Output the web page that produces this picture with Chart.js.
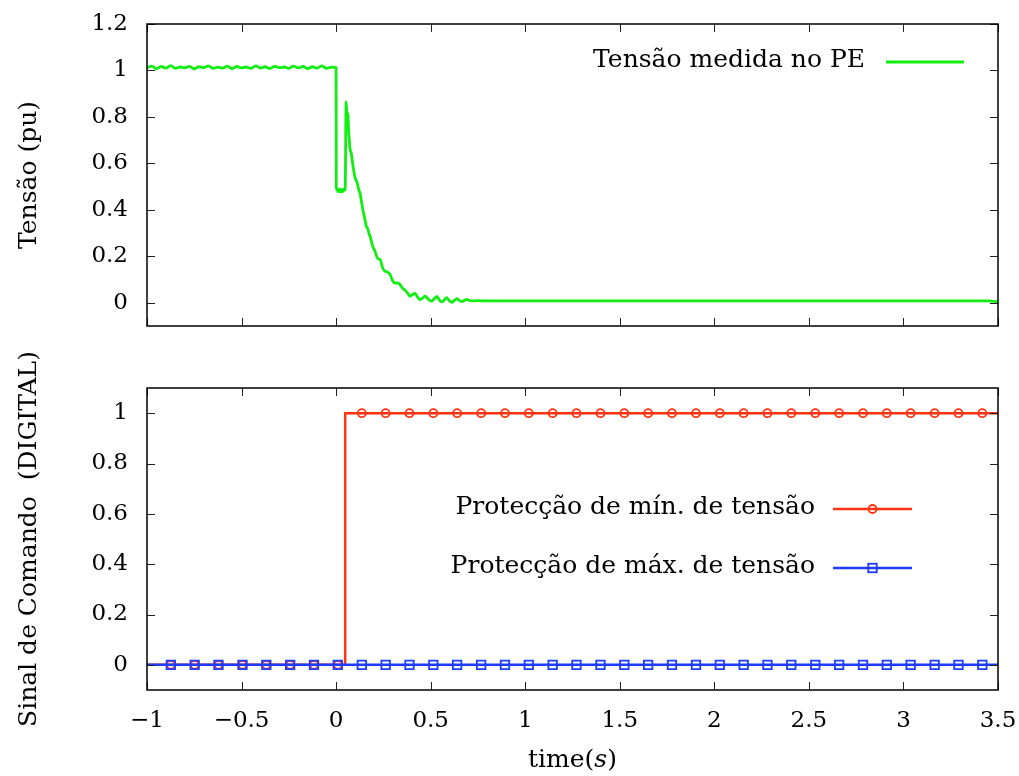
<!DOCTYPE html>
<html>
<head>
<meta charset="utf-8">
<script src="https://cdn.jsdelivr.net/npm/chart.js@4.4.1/dist/chart.umd.min.js"></script>
<style>
  html, body { margin: 0; padding: 0; background: #fff; }
  #wrap { position: relative; width: 1019px; height: 776px; }
  canvas { position: absolute; left: 0; }
  #voltChart { top: 0; }
  #cmdChart { top: 345px; }
</style>
</head>
<body>
<div id="wrap">
  <canvas id="voltChart" width="1019" height="345"></canvas>
  <canvas id="cmdChart" width="1019" height="431"></canvas>
</div>
<script>
// eixos
const xTicks = [-1, -0.5, 0, 0.5, 1, 1.5, 2, 2.5, 3, 3.5];
const voltTicks = [0, 0.2, 0.4, 0.6, 0.8, 1, 1.2];
const cmdTicks = [0, 0.2, 0.4, 0.6, 0.8, 1];

// tensão no PE antes do defeito
const preFaultTime = [
  -1, -0.975, -0.95, -0.925, -0.9, -0.875, -0.85, -0.825, -0.8, -0.775,
  -0.75, -0.725, -0.7, -0.675, -0.65, -0.625, -0.6, -0.575, -0.55, -0.525,
  -0.5, -0.475, -0.45, -0.425, -0.4, -0.375, -0.35, -0.325, -0.3, -0.275,
  -0.25, -0.225, -0.2, -0.175, -0.15, -0.125, -0.1, -0.075, -0.05, -0.025,
  0
];
const preFaultValue = [
  1.012, 1.019, 1.008, 1.017, 1.010, 1.021, 1.009, 1.015, 1.011, 1.018,
  1.007, 1.016, 1.012, 1.020, 1.009, 1.014, 1.010, 1.019, 1.008, 1.017,
  1.011, 1.015, 1.009, 1.020, 1.010, 1.016, 1.008, 1.018, 1.012, 1.015,
  1.009, 1.019, 1.011, 1.017, 1.008, 1.016, 1.010, 1.020, 1.009, 1.014,
  1.012
];

// tensão no PE depois do defeito
const faultTime = [
  0.001, 0.006, 0.012, 0.018, 0.024, 0.030, 0.036, 0.042, 0.048, 0.053,
  0.058, 0.062, 0.066, 0.070, 0.074, 0.080, 0.090, 0.100, 0.110, 0.120,
  0.127, 0.135, 0.145, 0.153, 0.160, 0.167, 0.175, 0.180, 0.193, 0.206,
  0.220, 0.233, 0.246, 0.259, 0.272, 0.286, 0.299, 0.312, 0.325, 0.338,
  0.352, 0.365, 0.378, 0.391, 0.405, 0.418, 0.431, 0.444, 0.457, 0.471,
  0.488, 0.506, 0.520, 0.533, 0.546, 0.559, 0.572, 0.585, 0.598, 0.612,
  0.625, 0.638, 0.651, 0.665, 0.678, 0.691, 0.705, 0.718, 0.75, 0.8,
  1.0, 1.5, 2.0, 2.5, 3.0, 3.45, 3.5
];
const faultValue = [
  0.500, 0.485, 0.478, 0.490, 0.476, 0.488, 0.479, 0.490, 0.485, 0.865,
  0.800, 0.815, 0.742, 0.700, 0.660, 0.644, 0.585, 0.540, 0.520, 0.486,
  0.470, 0.430, 0.386, 0.357, 0.328, 0.320, 0.295, 0.285, 0.245, 0.221,
  0.190, 0.186, 0.150, 0.136, 0.132, 0.121, 0.095, 0.085, 0.085, 0.079,
  0.062, 0.054, 0.042, 0.028, 0.036, 0.040, 0.024, 0.014, 0.020, 0.028,
  0.015, 0.007, 0.018, 0.027, 0.012, 0.004, 0.012, 0.022, 0.010, 0.002,
  0.010, 0.018, 0.010, 0.005, 0.010, 0.014, 0.010, 0.008, 0.009, 0.008,
  0.008, 0.008, 0.008, 0.008, 0.008, 0.008, 0.004
];

// sinais de comando (degraus)
const stepTime = [-1, 0.048, 0.048, 3.5];
const minStep = [0, 0, 1, 1];
const maxStep = [0, 0, 0, 0];

// amostras marcadas
const sampleTime = [
  -0.874, -0.748, -0.622, -0.495, -0.369, -0.243, -0.117, 0.009, 0.136, 0.262,
  0.388, 0.514, 0.640, 0.767, 0.893, 1.019, 1.145, 1.271, 1.398, 1.524,
  1.650, 1.776, 1.903, 2.029, 2.155, 2.281, 2.407, 2.534, 2.660, 2.786,
  2.912, 3.038, 3.165, 3.291, 3.417
];
const minSample = [
  0, 0, 0, 0, 0, 0, 0, 0, 1, 1,
  1, 1, 1, 1, 1, 1, 1, 1, 1, 1,
  1, 1, 1, 1, 1, 1, 1, 1, 1, 1,
  1, 1, 1, 1, 1
];
const maxSample = [
  0, 0, 0, 0, 0, 0, 0, 0, 0, 0,
  0, 0, 0, 0, 0, 0, 0, 0, 0, 0,
  0, 0, 0, 0, 0, 0, 0, 0, 0, 0,
  0, 0, 0, 0, 0
];

const GREEN = '#11ee11';
const RED = '#ff3311';
const BLUE = '#1e3cff';
const FONT = "'DejaVu Serif', serif";

Chart.defaults.font.family = FONT;
Chart.defaults.font.size = 23;
Chart.defaults.color = '#000';

const zip = (xs, ys) => xs.map((x, i) => ({ x: x, y: ys[i] }));
const fmt = v => String(v).replace('-', '\u2212');

// moldura com marcas de escala para dentro, nos quatro lados
const frameTicks = {
  id: 'frameTicks',
  afterDraw(chart, args, opts) {
    const { ctx, chartArea: a, scales: { x, y } } = chart;
    const len = opts.length;
    ctx.save();
    ctx.strokeStyle = '#222';
    ctx.lineWidth = 1;
    ctx.beginPath();
    xTicks.forEach(v => {
      const px = Math.round(x.getPixelForValue(v)) + 0.5;
      ctx.moveTo(px, a.bottom); ctx.lineTo(px, a.bottom - len);
      ctx.moveTo(px, a.top); ctx.lineTo(px, a.top + len);
    });
    opts.yTicks.forEach(v => {
      const py = Math.round(y.getPixelForValue(v)) + 0.5;
      ctx.moveTo(a.left, py); ctx.lineTo(a.left + len, py);
      ctx.moveTo(a.right, py); ctx.lineTo(a.right - len, py);
    });
    ctx.stroke();
    ctx.strokeStyle = '#000';
    ctx.lineWidth = 1.5;
    ctx.strokeRect(a.left, a.top, a.right - a.left, a.bottom - a.top);
    ctx.restore();
  }
};

// legenda ao estilo gnuplot: texto à esquerda, amostra da linha à direita
const sideLegend = {
  id: 'sideLegend',
  afterDraw(chart, args, opts) {
    const { ctx } = chart;
    ctx.save();
    ctx.font = opts.fontSize + 'px ' + FONT;
    ctx.textAlign = 'right';
    ctx.textBaseline = 'middle';
    chart.data.datasets.filter(d => d.legendMarker).forEach((ds, i) => {
      const y = opts.top + i * opts.rowGap;
      ctx.fillStyle = '#000';
      ctx.fillText(ds.label, opts.textRight, y - 2);
      ctx.strokeStyle = ds.borderColor;
      ctx.lineWidth = ds.borderWidth;
      ctx.beginPath();
      ctx.moveTo(opts.lineLeft, y);
      ctx.lineTo(opts.lineRight, y);
      ctx.stroke();
      const mx = (opts.lineLeft + opts.lineRight) / 2;
      ctx.lineWidth = 1.8;
      if (ds.legendMarker === 'circle') {
        ctx.beginPath();
        ctx.arc(mx, y, 4, 0, Math.PI * 2);
        ctx.stroke();
      } else if (ds.legendMarker === 'rect') {
        const s = 4.25;
        ctx.strokeRect(mx - s, y - s, 2 * s, 2 * s);
      }
    });
    ctx.restore();
  }
};

// título do eixo x com a unidade em itálico
const timeTitle = {
  id: 'timeTitle',
  afterDraw(chart, args, opts) {
    const { ctx, chartArea: a } = chart;
    const parts = [['time(', ''], ['s', 'italic '], [')', '']];
    ctx.save();
    ctx.textBaseline = 'middle';
    ctx.textAlign = 'left';
    ctx.fillStyle = '#000';
    const widths = parts.map(p => {
      ctx.font = p[1] + opts.fontSize + 'px ' + FONT;
      return ctx.measureText(p[0]).width;
    });
    let x = (a.left + a.right) / 2 - widths.reduce((s, w) => s + w, 0) / 2;
    const y = a.bottom + opts.offset;
    parts.forEach((p, i) => {
      ctx.font = p[1] + opts.fontSize + 'px ' + FONT;
      ctx.fillText(p[0], x, y);
      x += widths[i];
    });
    ctx.restore();
  }
};

function xScale(showLabels, height) {
  return {
    type: 'linear',
    min: -1,
    max: 3.5,
    grid: { display: false, drawTicks: false },
    border: { display: false },
    afterBuildTicks: s => { s.ticks = xTicks.map(v => ({ value: v })); },
    afterFit: s => {
      s.height = height;
      s.paddingLeft = 0;
      s.paddingRight = 0;
    },
    ticks: { display: showLabels, autoSkip: false, maxRotation: 0, padding: 17, callback: fmt }
  };
}

function yScale(min, max, ticks, title) {
  return {
    type: 'linear',
    min: min,
    max: max,
    grid: { display: false, drawTicks: false },
    border: { display: false },
    afterBuildTicks: s => { s.ticks = ticks.map(v => ({ value: v })); },
    afterFit: s => {
      s.width = 147;
      s.paddingTop = 0;
      s.paddingBottom = 0;
    },
    ticks: { padding: 19, callback: fmt },
    title: { display: true, text: title, font: { size: 25 }, padding: { top: 14 } }
  };
}

const common = {
  responsive: false,
  animation: false,
  events: []
};

new Chart(document.getElementById('voltChart'), {
  type: 'line',
  data: {
    datasets: [{
      label: 'Tensão medida no PE',
      data: zip(preFaultTime.concat(faultTime), preFaultValue.concat(faultValue)),
      borderColor: GREEN,
      borderWidth: 2.8,
      pointRadius: 0,
      cubicInterpolationMode: 'monotone',
      legendMarker: 'line'
    }]
  },
  options: Object.assign({}, common, {
    layout: { padding: { top: 24, right: 21, bottom: 0, left: 0 } },
    scales: {
      x: xScale(false, 19),
      y: yScale(-0.1, 1.2, voltTicks, 'Tensão (pu)')
    },
    plugins: {
      legend: { display: false },
      tooltip: { enabled: false },
      frameTicks: { length: 8, yTicks: voltTicks },
      sideLegend: { fontSize: 25, top: 62, rowGap: 0, textRight: 865, lineLeft: 886, lineRight: 964 }
    }
  }),
  plugins: [frameTicks, sideLegend]
});

new Chart(document.getElementById('cmdChart'), {
  type: 'line',
  data: {
    datasets: [
      {
        label: 'Protecção de mín. de tensão',
        data: zip(stepTime, minStep),
        borderColor: RED,
        borderWidth: 2.5,
        pointRadius: 0,
        order: 3,
        legendMarker: 'circle'
      },
      {
        data: zip(sampleTime, minSample),
        showLine: false,
        pointStyle: 'circle',
        pointRadius: 4,
        pointBorderWidth: 1.8,
        pointBorderColor: RED,
        pointBackgroundColor: 'rgba(0,0,0,0)',
        order: 2
      },
      {
        label: 'Protecção de máx. de tensão',
        data: zip(stepTime, maxStep),
        borderColor: BLUE,
        borderWidth: 2.5,
        pointRadius: 0,
        order: 1,
        legendMarker: 'rect'
      },
      {
        data: zip(sampleTime, maxSample),
        showLine: false,
        pointStyle: 'rect',
        pointRadius: 6,
        pointBorderWidth: 1.8,
        pointBorderColor: BLUE,
        pointBackgroundColor: 'rgba(0,0,0,0)',
        order: 0
      }
    ]
  },
  options: Object.assign({}, common, {
    layout: { padding: { top: 43, right: 21, bottom: 0, left: 0 } },
    scales: {
      x: xScale(true, 86),
      y: yScale(-0.1, 1.1, cmdTicks, 'Sinal de Comando  (DIGITAL)')
    },
    plugins: {
      legend: { display: false },
      tooltip: { enabled: false },
      frameTicks: { length: 8, yTicks: cmdTicks },
      sideLegend: { fontSize: 25, top: 164, rowGap: 59, textRight: 815, lineLeft: 833, lineRight: 912 },
      timeTitle: { fontSize: 25, offset: 70 }
    }
  }),
  plugins: [frameTicks, sideLegend, timeTitle]
});
</script>
</body>
</html>
